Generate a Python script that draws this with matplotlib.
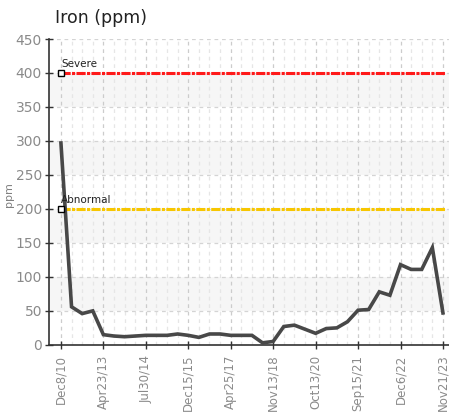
import matplotlib.pyplot as plt
import numpy as np

# iron readings, one per sample (labels shown every 4th sample)
values = [297, 56, 46, 50, 15, 13, 12, 13, 14, 14, 14, 16, 14, 11, 16, 16,
          14, 14, 14, 3, 5, 27, 29, 23, 17, 24, 25, 34, 51, 52, 78, 73,
          118, 111, 111, 143, 47]
tick_labels = ['Dec8/10', 'Apr23/13', 'Jul30/14', 'Dec15/15', 'Apr25/17',
               'Nov13/18', 'Oct13/20', 'Sep15/21', 'Dec6/22', 'Nov21/23']
limits = {'Severe': 400, 'Abnormal': 200}
limit_colors = {'Severe': '#ff1a1a', 'Abnormal': '#f7c600'}

x = np.arange(len(values))

fig = plt.figure(figsize=(4.49, 4.15), dpi=100)
ax = fig.add_axes([0.109, 0.169, 0.891, 0.737])

# alternating bands
for lo in [50, 150, 250, 350]:
    ax.axhspan(lo, lo + 50, color='#f6f6f6', zorder=0, lw=0)

ax.set_xticks(x[::4])
ax.set_xticks(x, minor=True)
ax.set_xticklabels(tick_labels, rotation=90, fontsize=8.5, color='#8a8a8a')
ax.set_yticks(np.arange(0, 451, 50))
ax.tick_params(axis='y', labelsize=10, labelcolor='#8a8a8a', direction='inout',
               length=6, width=1, color='#333333', pad=2)
ax.tick_params(axis='x', which='major', direction='inout', length=6, width=1,
               color='#333333', pad=4)
ax.tick_params(axis='x', which='minor', length=0)

ax.grid(axis='y', color='#d4d4d4', linestyle=(0, (3, 3)), lw=0.9, zorder=1)
ax.grid(axis='x', which='major', color='#cccccc', linestyle=(0, (3, 3)), lw=0.9, zorder=1)
ax.grid(axis='x', which='minor', color='#e6e6e6', linestyle=(0, (3, 3)), lw=0.9, zorder=1)
ax.set_axisbelow(True)

for name, lvl in limits.items():
    ax.plot([0, len(values) - 0.8], [lvl, lvl], color=limit_colors[name],
            lw=2.2, linestyle=(0, (3, 0.45, 1, 0.45)), zorder=3)
    ax.plot([0], [lvl], marker='s', ms=5, mfc='white', mec='black', mew=1, zorder=5)
    ax.text(0, lvl + 6, name, fontsize=7.5, color='#222222', ha='left', va='bottom',
            zorder=6)

ax.plot(x, values, color='#484848', lw=2.6, solid_joinstyle='miter', zorder=4)

ax.set_xlim(-1.13, 36.57)
ax.set_ylim(0, 450)

for s in ['top', 'right']:
    ax.spines[s].set_visible(False)
ax.spines['left'].set_color('#333333')
ax.spines['bottom'].set_color('#333333')
ax.spines['left'].set_linewidth(1.2)
ax.spines['bottom'].set_linewidth(1.2)

ax.set_ylabel('ppm', fontsize=8, color='#808080')
ax.yaxis.set_label_coords(-0.088, 0.49)
fig.text(0.122, 0.935, 'Iron (ppm)', fontsize=12.5, color='#222222', ha='left', va='bottom')

fig.savefig('out.png', dpi=100)
